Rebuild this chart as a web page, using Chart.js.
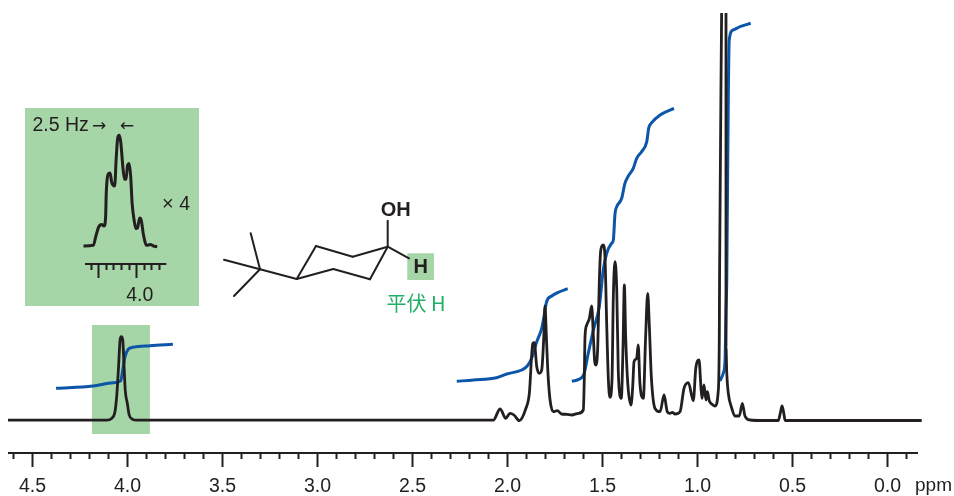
<!DOCTYPE html>
<html>
<head>
<meta charset="utf-8">
<title>1H NMR</title>
<script src="https://cdn.jsdelivr.net/npm/chart.js@4"></script>
<style>
  html, body { margin: 0; padding: 0; background: #fff; }
  canvas { display: block; }
</style>
</head>
<body>
<canvas id="nmr" width="954" height="496"></canvas>
<script>
'use strict';

const INK = '#231f20';
const BLUE = '#0b56a8';
const GREEN_BG = '#a6d5a7';
const GREEN_TEXT = '#22ae68';
const FONT = '"Liberation Sans", Arial, sans-serif';

// axis ticks (ppm)
const majorTicks = [4.5, 4.0, 3.5, 3.0, 2.5, 2.0, 1.5, 1.0, 0.5, 0.0];
const minorTicks = [4.6, 4.4, 4.3, 4.2, 4.1, 3.9, 3.8, 3.7, 3.6, 3.4, 3.3, 3.2, 3.1, 2.9, 2.8, 2.7, 2.6, 2.4, 2.3, 2.2, 2.1,
  1.9, 1.8, 1.7, 1.6, 1.4, 1.3, 1.2, 1.1, 0.9, 0.8, 0.7, 0.6, 0.4, 0.3, 0.2, 0.1, -0.1];
const insetMajorTicks = [4.05, 4.0];
const insetMinorTicks = [4.06, 4.04, 4.03, 4.02, 4.01, 3.99, 3.98, 3.97];

// main spectrum; the tall 0.87 peak runs off the top, hence the null
const spectrumPpm = [
  4.629, 4.109, 4.083, 4.066, 4.057, 4.048, 4.039, 4.033, 4.025, 4.018, 4.012, 4.001, 3.991, 3.973, 3.952,
  2.075, 2.039, 2.009, 1.987, 1.966, 1.938, 1.903, 1.885, 1.867, 1.859, 1.846, 1.833, 1.820, 1.809, 1.803,
  1.794, 1.787, 1.776, 1.759, 1.738, 1.715, 1.688, 1.662, 1.627, 1.601, 1.596, 1.592, 1.583, 1.569, 1.557,
  1.548, 1.541, 1.534, 1.525, 1.517, 1.509, 1.496, 1.487, 1.478, 1.469, 1.461, 1.450, 1.443, 1.434, 1.425,
  1.417, 1.409, 1.401, 1.392, 1.385, 1.378, 1.367, 1.350, 1.341, 1.334, 1.320, 1.312, 1.303, 1.285, 1.273,
  1.262, 1.254, 1.243, 1.224, 1.197, 1.176, 1.159, 1.145, 1.133, 1.118, 1.092, 1.071, 1.048, 1.022, 1.009,
  0.992, 0.982, 0.976, 0.966, 0.955, 0.948, 0.938, 0.925, 0.908, 0.891, 0.885, 0.884, 0.873, 0.860, 0.850,
  0.850, 0.850, 0.846, 0.838, 0.820, 0.803, 0.780, 0.764, 0.750, 0.724, 0.654, 0.575, 0.564, 0.555, 0.546,
  0.539, 0.513, -0.180];
const spectrumHeight = [
  0.8, 0.8, 2.7, 9.3, 24.3, 51, 81, 84.3, 81, 54.3, 31, 17.7, 6, 1.7, 0.8,
  0.8, 12, 2.7, 7.7, 6, 0.3, 12.7, 27.7, 77.7, 78.3, 54.3, 47.7, 51, 84.3, 115,
  77.7, 47.7, 21, 9.3, 10.3, 7, 6.7, 6, 7.7, 11, 41, 84.3, 96, 102.7, 115,
  84.3, 59.3, 56, 74.3, 137.7, 171, 176, 164.3, 97.7, 41, 23.7, 41, 124.3, 159.3, 131,
  51, 26, 22.7, 74.3, 136, 84.3, 37.7, 16, 34.3, 59.3, 62.7, 76, 37.7, 22.7, 84.3,
  127.7, 97.7, 44.3, 12.7, 9.3, 26, 9.3, 7.7, 8.7, 7, 9.3, 32.7, 38.3, 20.3, 52.7,
  61, 34.3, 22.7, 36, 21, 29.3, 20.3, 17, 15, 29.3, 91, 141, 408, null, 408,
  141, 74.3, 48, 28, 13, 5, 5, 17.7, 5, 1, 0.5, 0.5, 8, 15, 8,
  0.5, 0.5, 0.5];

// integral curves
const integral1Ppm = [4.376, 4.182, 4.076, 4.036, 4.025, 4.013, 3.996, 3.971, 3.882, 3.761];
const integral1Height = [32.7, 35, 38.3, 40.3, 51, 64.3, 71.7, 73.7, 75.3, 76.7];
const integral2Ppm = [2.267, 2.180, 2.057, 2.004, 1.925, 1.896, 1.873, 1.846, 1.820, 1.808, 1.794, 1.767, 1.733, 1.683];
const integral2Height = [39.7, 41, 43.3, 47, 51, 55, 62.7, 79.3, 92.7, 104.3, 119.3, 125, 128.7, 132.3];
const integral3Ppm = [1.661, 1.601, 1.575, 1.548, 1.517, 1.496, 1.478, 1.452, 1.443, 1.434, 1.425, 1.399, 1.382, 1.364,
  1.338, 1.320, 1.294, 1.267, 1.257, 1.241, 1.197, 1.124];
const integral3Height = [39.7, 45.3, 67.7, 91, 114.3, 151, 167.7, 177.7, 181, 207.7, 214.3, 222.7, 237.7, 245,
  252.7, 262.7, 269.3, 279.3, 292.7, 298.3, 306, 312.7];
const integral4Ppm = [0.882, 0.864, 0.855, 0.850, 0.846, 0.838, 0.833, 0.813, 0.776, 0.720];
const integral4Height = [40, 48, 61, 108, 141, 321, 381, 391, 394.3, 397.7];

// x4 expansion of the 4.03 ppm signal
const insetPpm = [4.070, 4.057, 4.054, 4.050, 4.046, 4.043, 4.041, 4.040, 4.038, 4.035, 4.033, 4.029, 4.027, 4.025, 4.023,
  4.021, 4.018, 4.016, 4.014, 4.012, 4.010, 4.008, 4.006, 4.003, 4.001, 3.999, 3.996, 3.994, 3.991, 3.987, 3.982, 3.978, 3.973];
const insetHeight = [0, 0.7, 9, 19, 21.4, 20, 27.4, 54, 70.7, 73, 64, 60, 87.4, 108, 110.7,
  104, 77.4, 66.7, 66.7, 80.7, 82.4, 70.7, 42.4, 24, 17.4, 18, 28, 25.7, 10.7, 0.7, 1.4, 0, -0.7];
const insetAxisPpm = [4.068, 3.961];
const insetAxisHeight = [-18, -18];

// region highlighted on the main spectrum
const bandPpm = [4.187, 3.882];
const bandHeight = [96, -13];

// molecule line drawing, page pixels
const bonds = [
  [250.7, 233.3, 260, 269.3], [224, 259.7, 260, 269.3], [234, 296, 260, 269.3], [260, 269.3, 296.7, 279],
  [296.7, 279, 316, 246], [316, 246, 352.7, 256.7], [352.7, 256.7, 387.7, 246.7], [296.7, 279, 333.3, 269],
  [333.3, 269, 370, 279.3], [370, 279.3, 387.7, 246.7], [387.7, 220.7, 387.7, 246.7], [387.7, 246.7, 409, 258.3]
];

function toPoints(xs, ys) {
  return xs.map((x, i) => ({ x, y: ys[i] }));
}

function traceSet(xs, ys, color, width, extra) {
  return Object.assign({
    data: toPoints(xs, ys),
    borderColor: color,
    borderWidth: width,
    pointRadius: 0,
    cubicInterpolationMode: 'monotone',
    spanGaps: false,
    clip: false,
    borderCapStyle: 'butt',
    borderJoinStyle: 'round',
  }, extra);
}

function tickAxis(ticks, length, pos, min, max, extra) {
  return Object.assign({
    type: 'linear',
    axis: 'x',
    reverse: true,
    min,
    max,
    position: pos,
    afterBuildTicks: axis => { axis.ticks = ticks.map(value => ({ value })); },
    border: { display: false },
    grid: { drawOnChartArea: false, drawTicks: true, tickLength: length, tickColor: INK, tickWidth: 2 },
    ticks: { display: false, autoSkip: false, maxRotation: 0 },
  }, extra);
}

// green panels go under the axes and traces
const backdrop = {
  id: 'backdrop',
  beforeDraw(chart) {
    const { ctx, scales } = chart;
    ctx.save();
    ctx.fillStyle = GREEN_BG;
    ctx.fillRect(25, 108, 174, 198);
    ctx.fillRect(407.3, 253.3, 26.7, 26.7);
    const x0 = scales.x.getPixelForValue(bandPpm[0]);
    const x1 = scales.x.getPixelForValue(bandPpm[1]);
    const y0 = scales.y.getPixelForValue(bandHeight[0]);
    const y1 = scales.y.getPixelForValue(bandHeight[1]);
    ctx.fillRect(x0, y0, x1 - x0, y1 - y0);
    ctx.restore();
  },
};

const annotations = {
  id: 'annotations',
  afterDraw(chart) {
    const { ctx } = chart;
    ctx.save();
    ctx.strokeStyle = INK;
    ctx.lineWidth = 2;
    ctx.lineCap = 'round';
    bonds.forEach(([x1, y1, x2, y2]) => {
      ctx.beginPath();
      ctx.moveTo(x1, y1);
      ctx.lineTo(x2, y2);
      ctx.stroke();
    });

    const label = (text, x, y, font, color, align) => {
      ctx.font = font;
      ctx.fillStyle = color || INK;
      ctx.textAlign = align || 'left';
      ctx.textBaseline = 'alphabetic';
      ctx.fillText(text, x, y);
    };
    label('OH', 395.7, 215.5, 'bold 20px ' + FONT, INK, 'center');
    label('H', 420.7, 273, 'bold 20px ' + FONT, INK, 'center');
    label('平伏 H', 416, 311, '20px "Noto Sans CJK SC", ' + FONT, GREEN_TEXT, 'center');
    label('2.5 Hz', 32.5, 131, '19.5px ' + FONT);
    label('→', 92, 131, '17px "DejaVu Sans"');
    label('←', 120, 131, '17px "DejaVu Sans"');
    label('×', 162, 209.5, '20px ' + FONT);
    label('4', 190, 209.5, '19.5px ' + FONT, INK, 'right');
    label('ppm', 915, 491, '19px ' + FONT);
    ctx.restore();
  },
};

new Chart(document.getElementById('nmr'), {
  type: 'line',
  plugins: [backdrop, annotations],
  data: {
    datasets: [
      traceSet(spectrumPpm, spectrumHeight, INK, 2.8, { xAxisID: 'x', yAxisID: 'y' }),
      traceSet(integral1Ppm, integral1Height, BLUE, 3, { xAxisID: 'x', yAxisID: 'y' }),
      traceSet(integral2Ppm, integral2Height, BLUE, 3, { xAxisID: 'x', yAxisID: 'y' }),
      traceSet(integral3Ppm, integral3Height, BLUE, 3, { xAxisID: 'x', yAxisID: 'y' }),
      traceSet(integral4Ppm, integral4Height, BLUE, 3, { xAxisID: 'x', yAxisID: 'y' }),
      traceSet(insetPpm, insetHeight, INK, 3, { xAxisID: 'xInset', yAxisID: 'yInset' }),
      traceSet(insetAxisPpm, insetAxisHeight, INK, 2, { xAxisID: 'xInset', yAxisID: 'yInset' }),
    ],
  },
  options: {
    responsive: false,
    animation: false,
    layout: { padding: { left: 9, right: 37, top: 0, bottom: 0 } },
    plugins: { legend: { display: false }, tooltip: { enabled: false } },
    scales: {
      y: { type: 'linear', display: false, min: -75, max: 421 },
      yInset: { type: 'linear', axis: 'y', display: false, min: -250, max: 246 },
      x: tickAxis(majorTicks, 13, { y: -31.5 }, -0.1553, 4.6237, {
        border: { display: true, color: INK, width: 2 },
        ticks: {
          display: true, autoSkip: false, maxRotation: 0, padding: 9, color: INK,
          font: { family: FONT, size: 19.5 },
          callback: v => v.toFixed(1),
        },
      }),
      xMinor: tickAxis(minorTicks, 6, { y: -31.5 }, -0.1553, 4.6237),
      xInset: tickAxis(insetMajorTicks, 14, { yInset: -18 }, 2.97329, 4.16803, {
        ticks: {
          display: true, autoSkip: false, maxRotation: 0, padding: 6, color: INK, labelOffset: 3,
          font: { family: FONT, size: 19.5 },
          callback: v => (v === 4.0 ? '4.0' : ''),
        },
      }),
      xInsetMinor: tickAxis(insetMinorTicks, 6, { yInset: -18 }, 2.97329, 4.16803),
    },
  },
});
</script>
</body>
</html>
